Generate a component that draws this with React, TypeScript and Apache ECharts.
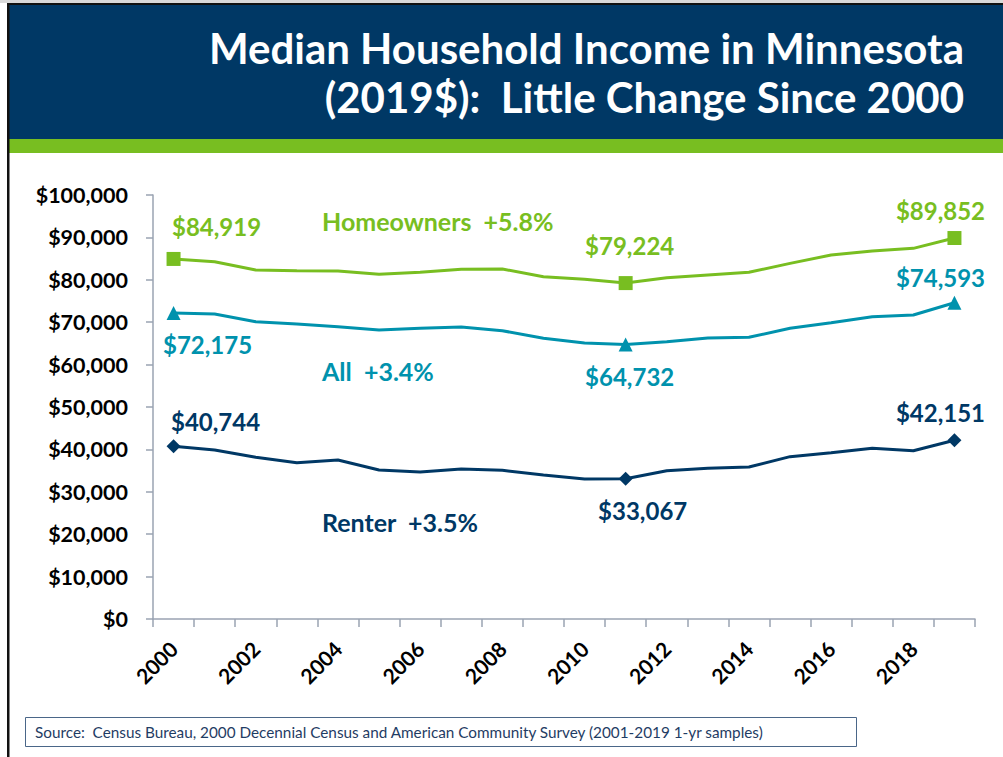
import React, { useEffect, useRef } from "react";
import * as echarts from "echarts";

const years = ["2000","2001","2002","2003","2004","2005","2006","2007","2008","2009","2010","2011","2012","2013","2014","2015","2016","2017","2018","2019"];
const homeowners = [84919, 84270, 82300, 82150, 82070, 81300, 81770, 82470, 82550, 80740, 80110, 79224, 80500, 81130, 81760, 83880, 85850, 86790, 87420, 89852];
const allHouseholds = [72175, 71930, 70120, 69580, 68950, 68160, 68550, 68870, 68000, 66200, 65090, 64732, 65400, 66300, 66430, 68560, 69890, 71300, 71700, 74593];
const renters = [40744, 39860, 38130, 36870, 37500, 35140, 34670, 35380, 35060, 33960, 33020, 33067, 34980, 35530, 35850, 38290, 39230, 40260, 39700, 42151];
const markedIndices = [0, 11, 19];
const seriesNames = ["Homeowners", "All", "Renter"];
const seriesNotes = ["Homeowners  +5.8%", "All  +3.4%", "Renter  +3.5%"];
const yMin = 0;
const yMax = 100000;
const yStep = 10000;
const titleLines = ["Median Household Income in Minnesota", "(2019$):  Little Change Since 2000"];
const sourceText = "Source:  Census Bureau, 2000 Decennial Census and American Community Survey (2001-2019 1-yr samples)";

const NAVY = "#003865";
const GREEN = "#78be21";
const TEAL = "#0092ad";
const FONT = "Lato, 'Open Sans', sans-serif";

const fmt = (v: number) => "$" + v.toLocaleString("en-US");

function buildData(values: number[], symbol: string, size: number, offsets: number[][], color: string) {
  return values.map((v, i) => {
    const k = markedIndices.indexOf(i);
    if (k < 0) return { value: v, symbol: "none" };
    return {
      value: v,
      symbol,
      symbolSize: size,
      label: {
        show: true,
        position: "inside",
        offset: offsets[k],
        formatter: (p: any) => fmt(p.value),
        color,
        fontFamily: FONT,
        fontWeight: "bold",
        fontSize: 24,
        align: "center",
        verticalAlign: "middle",
      },
    };
  });
}

export default function App() {
  const ref = useRef<HTMLDivElement>(null);
  useEffect(() => {
    if (!ref.current) return;
    const chart = echarts.init(ref.current, undefined, { renderer: "svg" });
    const lineSeries = (name: string, data: any[], color: string) => ({
      name,
      type: "line",
      data,
      symbol: "none",
      showSymbol: true,
      lineStyle: { color, width: 3 },
      itemStyle: { color },
      z: 3,
    });
    const option: any = {
      animation: false,
      backgroundColor: "#ffffff",
      grid: { left: 153, right: 28, top: 195, bottom: 138, containLabel: false },
      xAxis: {
        type: "category",
        data: years,
        boundaryGap: true,
        axisLine: { show: true, lineStyle: { color: "#9aa3b2", width: 1.5 } },
        axisTick: { show: true, interval: 0, length: 8, lineStyle: { color: "#9aa3b2", width: 1.5 } },
        axisLabel: {
          interval: 1,
          rotate: 45,
          margin: 26,
          color: "#000",
          fontFamily: FONT,
          fontWeight: "bold",
          fontSize: 21,
        },
        splitLine: { show: false },
      },
      yAxis: {
        type: "value",
        min: yMin,
        max: yMax,
        interval: yStep,
        axisLine: { show: true, lineStyle: { color: "#9aa3b2", width: 1.5 } },
        axisTick: { show: true, length: 7, lineStyle: { color: "#9aa3b2", width: 1.5 } },
        axisLabel: {
          margin: 25,
          color: "#000",
          fontFamily: FONT,
          fontWeight: "bold",
          fontSize: 21.5,
          formatter: (v: number) => fmt(v),
        },
        splitLine: { show: false },
      },
      series: [
        lineSeries(seriesNames[0], buildData(homeowners, "rect", 14, [[43, -32], [4, -38], [-14, -28]], GREEN), GREEN),
        lineSeries(seriesNames[1], buildData(allHouseholds, "triangle", 14, [[34, 32], [4, 32], [-14, -25]], TEAL), TEAL),
        lineSeries(seriesNames[2], buildData(renters, "diamond", 14, [[42, -25], [17, 32], [-14, -28]], NAVY), NAVY),
      ],
      graphic: [
        { type: "rect", shape: { x: 0, y: 0, width: 1003, height: 3 }, style: { fill: "#d9d9d9" }, silent: true },
        { type: "rect", shape: { x: 7, y: 3, width: 996, height: 2 }, style: { fill: "#111" }, silent: true },
        { type: "rect", shape: { x: 9, y: 5, width: 994, height: 134 }, style: { fill: NAVY }, silent: true },
        { type: "rect", shape: { x: 9, y: 139, width: 994, height: 14 }, style: { fill: GREEN }, silent: true },
        { type: "rect", shape: { x: 7, y: 3, width: 2.5, height: 754 }, style: { fill: "#111" }, silent: true },
        {
          type: "text", x: 964, y: 48,
          style: { text: titleLines[0], fill: "#fff", font: `bold 42px ${FONT}`, align: "right", verticalAlign: "middle" },
        },
        {
          type: "text", x: 964, y: 97,
          style: { text: titleLines[1], fill: "#fff", font: `bold 42px ${FONT}`, align: "right", verticalAlign: "middle" },
        },
        {
          type: "text", x: 322, y: 221,
          style: { text: seriesNotes[0], fill: GREEN, font: `bold 25px ${FONT}`, align: "left", verticalAlign: "middle" },
        },
        {
          type: "text", x: 322, y: 371,
          style: { text: seriesNotes[1], fill: TEAL, font: `bold 25px ${FONT}`, align: "left", verticalAlign: "middle" },
        },
        {
          type: "text", x: 322, y: 522,
          style: { text: seriesNotes[2], fill: NAVY, font: `bold 25px ${FONT}`, align: "left", verticalAlign: "middle" },
        },
        {
          type: "rect", shape: { x: 25.5, y: 717.5, width: 831, height: 29 },
          style: { fill: "#fff", stroke: "#4a6688", lineWidth: 1 }, silent: true,
        },
        {
          type: "text", x: 35, y: 732,
          style: { text: sourceText, fill: "#1f3c64", font: `15.3px ${FONT}`, align: "left", verticalAlign: "middle" },
        },
      ],
    };
    chart.setOption(option);
    return () => chart.dispose();
  }, []);
  return <div ref={ref} style={{ position: "fixed", left: 0, top: 0, width: 1003, height: 757 }} />;
}
